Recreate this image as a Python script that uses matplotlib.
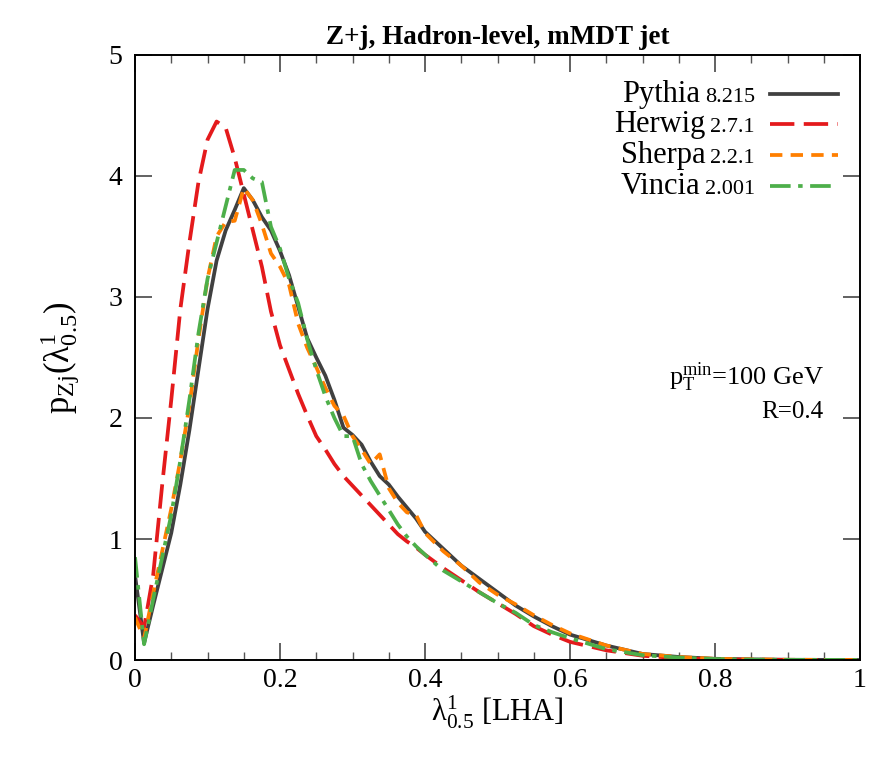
import numpy as np
import matplotlib
matplotlib.use("Agg")
import matplotlib.pyplot as plt
from matplotlib.ticker import MultipleLocator

plt.rcParams['font.family'] = ['Liberation Serif', 'DejaVu Serif']
plt.rcParams['mathtext.fontset'] = 'custom'
plt.rcParams['mathtext.rm'] = 'Liberation Serif'
plt.rcParams['mathtext.it'] = 'Liberation Serif:italic'
plt.rcParams['mathtext.bf'] = 'Liberation Serif:bold'

# bin positions in lambda
lam = [0, 0.0125, 0.025, 0.0375, 0.05, 0.0625, 0.075, 0.0875, 0.1, 0.1125,
       0.125, 0.1375, 0.15, 0.1625, 0.175, 0.1875, 0.2, 0.2125, 0.225, 0.2375,
       0.25, 0.2625, 0.275, 0.2875, 0.3, 0.3125, 0.325, 0.3375, 0.35, 0.3625,
       0.375, 0.3875, 0.4, 0.425, 0.45, 0.475, 0.5, 0.525, 0.55, 0.575,
       0.6, 0.65, 0.7, 0.75, 0.8, 0.85, 0.9, 0.95, 1.0]

pythia = [0.70, 0.14, 0.45, 0.75, 1.05, 1.45, 1.90, 2.40, 2.90, 3.30,
          3.55, 3.72, 3.90, 3.80, 3.66, 3.55, 3.38, 3.18, 2.92, 2.66,
          2.50, 2.35, 2.15, 1.92, 1.86, 1.78, 1.64, 1.52, 1.45, 1.35,
          1.26, 1.17, 1.06, 0.92, 0.78, 0.67, 0.56, 0.45, 0.36, 0.28,
          0.21, 0.12, 0.05, 0.025, 0.01, 0.005, 0.002, 0.001, 0.0]

herwig = [0.37, 0.27, 0.70, 1.45, 2.15, 2.90, 3.45, 3.95, 4.30, 4.45,
          4.40, 4.15, 3.85, 3.55, 3.25, 2.88, 2.60, 2.40, 2.20, 2.02,
          1.85, 1.74, 1.62, 1.52, 1.44, 1.36, 1.28, 1.20, 1.12, 1.04,
          0.98, 0.93, 0.87, 0.76, 0.66, 0.56, 0.47, 0.38, 0.28, 0.21,
          0.15, 0.08, 0.035, 0.015, 0.006, 0.003, 0.001, 0.001, 0.0]

sherpa = [0.35, 0.18, 0.55, 0.90, 1.25, 1.65, 2.10, 2.65, 3.15, 3.50,
          3.62, 3.63, 3.90, 3.80, 3.60, 3.36, 3.25, 3.10, 2.78, 2.58,
          2.42, 2.25, 2.10, 2.02, 1.85, 1.74, 1.62, 1.70, 1.42, 1.30,
          1.22, 1.20, 1.05, 0.90, 0.78, 0.64, 0.54, 0.46, 0.37, 0.29,
          0.22, 0.12, 0.05, 0.025, 0.01, 0.005, 0.002, 0.001, 0.0]

vincia = [0.85, 0.13, 0.50, 0.85, 1.20, 1.65, 2.15, 2.70, 3.15, 3.45,
          3.75, 4.05, 4.05, 3.98, 3.95, 3.58, 3.40, 3.15, 2.95, 2.65,
          2.40, 2.18, 2.00, 1.85, 1.85, 1.62, 1.48, 1.36, 1.24, 1.12,
          1.02, 0.94, 0.87, 0.74, 0.65, 0.56, 0.47, 0.39, 0.29, 0.23,
          0.18, 0.09, 0.04, 0.02, 0.008, 0.003, 0.001, 0.001, 0.0]

names = ["Pythia", "Herwig", "Sherpa", "Vincia"]
versions = ["8.215", "2.7.1", "2.2.1", "2.001"]
series = [pythia, herwig, sherpa, vincia]
colors = ["#404040", "#e41a1c", "#ff7f00", "#4daf4a"]
dashes = [None, (6.5, 2.5), (3.3, 2.2), (5.5, 2, 1.2, 2)]

fig = plt.figure(figsize=(8.86, 7.67), dpi=100)
ax = fig.add_axes([0.1524, 0.1395, 0.8183, 0.7888])

lw = 2.7
for ys, c, d in zip(series, colors, dashes):
    if d is None:
        ax.plot(lam, ys, color=c, lw=lw)
    else:
        ax.plot(lam, ys, color=c, lw=lw, dashes=d)

ax.set_xlim(0, 1)
ax.set_ylim(0, 5)
ax.xaxis.set_major_locator(MultipleLocator(0.2))
ax.xaxis.set_minor_locator(MultipleLocator(0.05))
ax.yaxis.set_major_locator(MultipleLocator(1))
ax.xaxis.set_major_formatter(plt.FuncFormatter(lambda v, p: ('%g' % v)))
ax.tick_params(which='both', direction='in', top=True, right=True, colors='#555555',
               labelcolor='black', labelsize=20)
ax.tick_params(which='major', length=12, width=1.3)
ax.tick_params(which='minor', length=6, width=1.0)
ax.tick_params(axis='x', pad=6)
ax.tick_params(axis='y', pad=9)
for s in ax.spines.values():
    s.set_linewidth(1.4)

ax.set_title("Z+j, Hadron-level, mMDT jet", fontsize=19.5, fontweight='bold', pad=8)
ax.set_xlabel(r"$\mathrm{\lambda^{1}_{0.5}}$ [LHA]", fontsize=22, labelpad=0)
ax.set_ylabel(r"$\mathrm{p_{Zj}(\lambda^{1}_{0.5})}$", fontsize=25, labelpad=20)

# legend drawn by hand: name + small version number, line sample at right
fig.canvas.draw()
renderer = fig.canvas.get_renderer()
x_txt = (755 - 135) / 725.0
x_l0 = (770 - 135) / 725.0
x_l1 = (838 - 135) / 725.0
rows = [94, 124, 155, 186]
for name, ver, c, d, ry in zip(names, versions, colors, dashes, rows):
    yax = (660 - ry) / 605.0
    vt = ax.text(x_txt, yax - 0.014, ver, transform=ax.transAxes, ha='right',
                 va='baseline', fontsize=16)
    bb = vt.get_window_extent(renderer=renderer)
    w = bb.width / ax.get_window_extent(renderer=renderer).width
    ax.text(x_txt - w - 0.007, yax - 0.014, name, transform=ax.transAxes,
            ha='right', va='baseline', fontsize=22)
    if d is None:
        ax.plot([x_l0, x_l1], [yax, yax], transform=ax.transAxes, color=c, lw=lw)
    else:
        ax.plot([x_l0, x_l1], [yax, yax], transform=ax.transAxes, color=c, lw=lw,
                dashes=d)

ax.text(0.95, 0.4545, r"$\mathrm{p_T^{min}}$=100 GeV", transform=ax.transAxes,
        ha='right', va='baseline', fontsize=19)
ax.text(0.95, 0.40, "R=0.4", transform=ax.transAxes, ha='right', va='baseline',
        fontsize=18)

fig.savefig("out.png", dpi=100)
